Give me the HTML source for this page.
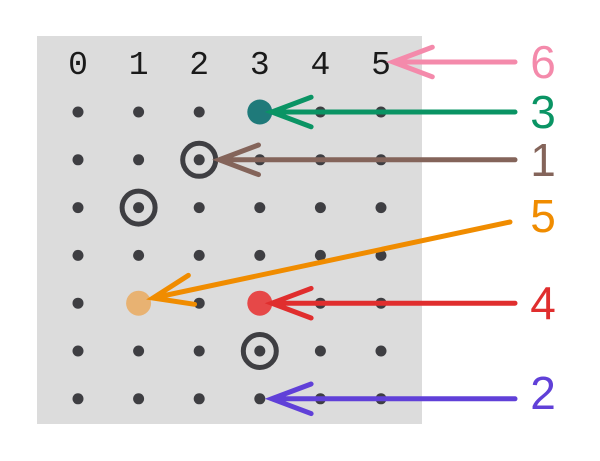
<!DOCTYPE html>
<html><head><meta charset="utf-8"><style>body{margin:0;background:#fff}svg{display:block}</style></head>
<body>
<svg width="600" height="461" id="c">
<rect x="37" y="36" width="385" height="388" fill="#dcdcdc"/>
</svg>
<script>
const colLabels=["0","1","2","3","4","5"];
const rowCount=[7];
const targets=[[2,1],[1,2],[3,5]];
const filled=[[3,0,"#1f7a7a"],[1,4,"#e8b272"],[3,4,"#e64848"]];
const notes=[["6",6,-1,"#f48aab"],["3",3,0,"#0a9464"],["1",2,1,"#84645a"],["4",3,4,"#e02e2e"],["2",3,6,"#6040d8"]];
const svg=document.getElementById('c');const NS="http://www.w3.org/2000/svg";
const X=i=>78+i*60.6, Y=j=>112+j*47.8;
function mk(t,a){const e=document.createElementNS(NS,t);for(const k in a)e.setAttribute(k,a[k]);svg.appendChild(e);return e;}
colLabels.forEach((l,i)=>{const t=mk('text',{x:X(i),y:74,'text-anchor':'middle','font-size':'33','font-family':'Liberation Mono, monospace',fill:'#1a1a1a'});t.textContent=l;

});
for(let j=0;j<rowCount[0];j++)for(let i=0;i<colLabels.length;i++){const d=mk('circle',{cx:X(i),cy:Y(j),r:5.5,fill:'#3e3e42'});

}
targets.forEach(([i,j])=>{const c=mk('circle',{cx:X(i),cy:Y(j),r:16.5,fill:'none',stroke:'#3e3e42','stroke-width':5});

});
filled.forEach(([i,j,col])=>{const c=mk('circle',{cx:X(i),cy:Y(j),r:12.5,fill:col});

});
function arrow(x1,y1,x2,y2,col){const g=mk('g',{stroke:col,'stroke-width':5,'stroke-linecap':'round',fill:'none'});


const a=Math.atan2(y1-y2,x1-x2);const L=42;
const p=`M${x1},${y1}L${x2},${y2}M${x2+L*Math.cos(a+0.36)},${y2+L*Math.sin(a+0.36)}L${x2},${y2}L${x2+L*Math.cos(a-0.36)},${y2+L*Math.sin(a-0.36)}`;
const e=document.createElementNS(NS,'path');e.setAttribute('d',p);g.appendChild(e);}
function label(t,x,y,col){const e=mk('text',{x:x,y:y,'text-anchor':'middle','font-size':'46','font-family':'Liberation Sans, sans-serif',fill:col});e.textContent=t;

}
notes.forEach(([t,i,j,col])=>{const y=j<0?62:Y(j);const x2=j<0?X(5)+12:X(i)+(j==1||j==2?20:12);
arrow(515,y,x2,y,col);label(t,543,y+(t=="2"?10:16),col);});
arrow(510,222,153,298,"#f08c00");label("5",543,232,"#f08c00");
</script>
</body></html>
